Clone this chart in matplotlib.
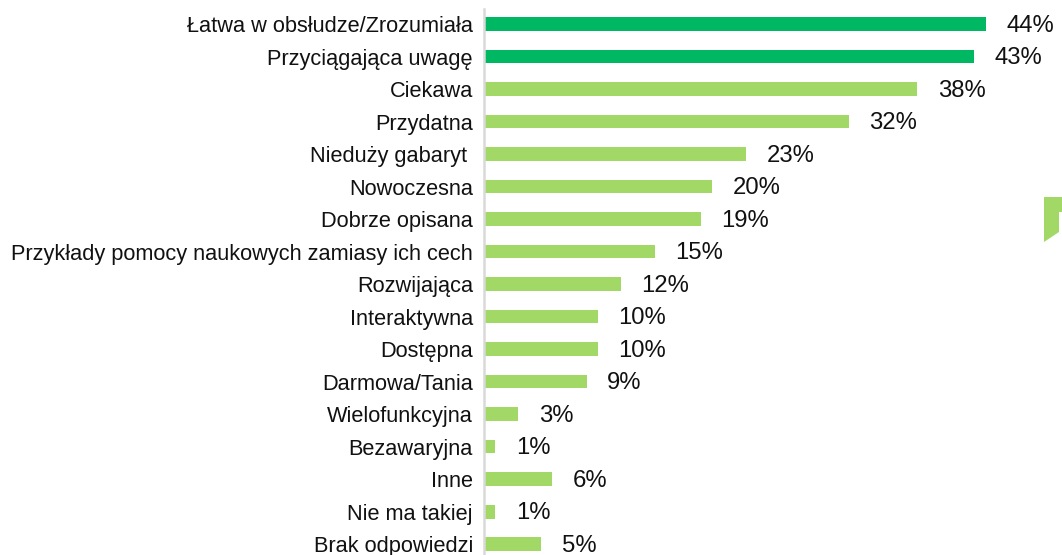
import matplotlib
matplotlib.use("Agg")
from matplotlib import pyplot as plt
from matplotlib.patches import Polygon

plt.rcParams['font.family'] = ['Liberation Sans', 'DejaVu Sans']

# dane ankiety (% odpowiedzi)
categories = [
    "Łatwa w obsłudze/Zrozumiała",
    "Przyciągająca uwagę",
    "Ciekawa",
    "Przydatna",
    "Nieduży gabaryt ",
    "Nowoczesna",
    "Dobrze opisana",
    "Przykłady pomocy naukowych zamiasy ich cech",
    "Rozwijająca",
    "Interaktywna",
    "Dostępna",
    "Darmowa/Tania",
    "Wielofunkcyjna",
    "Bezawaryjna",
    "Inne",
    "Nie ma takiej",
    "Brak odpowiedzi",
]
values = [44, 43, 38, 32, 23, 20, 19, 15, 12, 10, 10, 9, 3, 1, 6, 1, 5]
highlight = 2  # ile pierwszych słupków wyróżnić

dark_green = "#00B862"
light_green = "#A2D866"

W, H = 1062, 555
fig = plt.figure(figsize=(W / 100, H / 100), dpi=100)
ax = fig.add_axes([484 / W, 0, 1 - 484 / W, 546 / H])

colors = [dark_green if i < highlight else light_green for i in range(len(values))]
ypos = list(range(len(values)))
ax.barh(ypos, values, height=0.43, color=colors, zorder=2)

for y, v in zip(ypos, values):
    ax.text(v + 1.8, y + 0.05, f"{v}%", va="center", ha="left", fontsize=17.2, color="#111111")

ax.set_xlim(0, 50.7)
ax.set_ylim(16.338, -0.4615)
ax.set_yticks(ypos)
ax.set_yticklabels(categories, fontsize=15.7, color="#111111")
ax.tick_params(axis="y", length=0, pad=8)
ax.set_xticks([])

for s in ["top", "right", "bottom"]:
    ax.spines[s].set_visible(False)
ax.spines["left"].set_color("#D9D9D9")
ax.spines["left"].set_linewidth(1.8)

# ozdobny element przy prawej krawędzi
pts = [(1044, 197), (1062, 197), (1062, 212), (1059, 212), (1059, 232), (1044, 242)]
fig.patches.append(Polygon([(x / W, 1 - y / H) for x, y in pts], closed=True,
                           transform=fig.transFigure, facecolor=light_green,
                           edgecolor="none"))

fig.savefig("out.png", dpi=100)
